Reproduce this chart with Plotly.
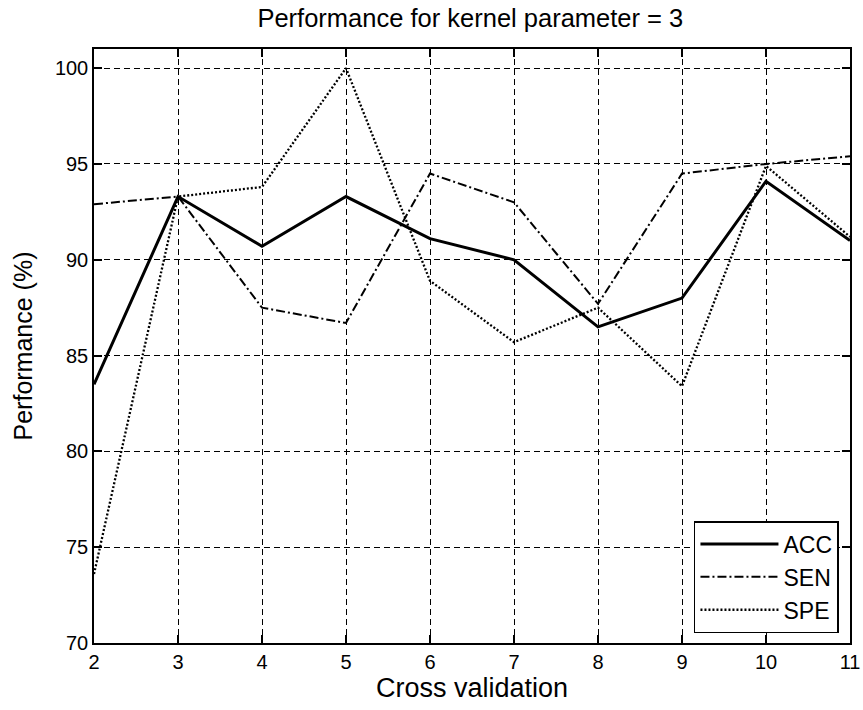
import plotly.graph_objects as go

x_vals = [2, 3, 4, 5, 6, 7, 8, 9, 10, 11]
acc = [83.5, 93.3, 90.7, 93.3, 91.1, 90.0, 86.5, 88.0, 94.1, 91.0]
sen = [92.9, 93.3, 87.5, 86.7, 94.5, 93.0, 87.7, 94.5, 95.0, 95.4]
spe = [73.6, 93.3, 93.8, 100.0, 88.9, 85.7, 87.5, 83.4, 94.9, 91.2]
x_ticks = [2, 3, 4, 5, 6, 7, 8, 9, 10, 11]
y_ticks = [70, 75, 80, 85, 90, 95, 100]

FONT = "Liberation Sans, Arial, sans-serif"

fig = go.Figure()
fig.add_trace(go.Scatter(x=x_vals, y=acc, mode="lines", name="ACC",
                         line=dict(color="black", width=3, dash="solid")))
fig.add_trace(go.Scatter(x=x_vals, y=sen, mode="lines", name="SEN",
                         line=dict(color="black", width=2, dash="9px,3px,2px,3px")))
fig.add_trace(go.Scatter(x=x_vals, y=spe, mode="lines", name="SPE",
                         line=dict(color="black", width=2.3, dash="2px,2px")))

axis_common = dict(showline=True, linecolor="black", linewidth=1.5, mirror="ticks",
                   ticks="inside", ticklen=8, tickcolor="black", tickwidth=1.5,
                   showgrid=True, gridcolor="black", gridwidth=1, griddash="6px,4px",
                   zeroline=False, automargin=False,
                   tickfont=dict(family=FONT, size=20, color="black"))

fig.update_layout(
    width=863, height=710,
    paper_bgcolor="white", plot_bgcolor="white",
    margin=dict(l=94, r=13, t=49, b=67),
    title=dict(text="Performance for kernel parameter = 3", x=0.545, xanchor="center",
               y=0.974, yanchor="middle",
               font=dict(family=FONT, size=25.5, color="black")),
    xaxis=dict(range=[2, 11], tickvals=x_ticks, ticktext=[str(t) for t in x_ticks],
               title=dict(text="Cross validation", font=dict(family=FONT, size=27, color="black"),
                          standoff=3),
               **axis_common),
    yaxis=dict(range=[70, 101], tickvals=y_ticks, ticktext=[str(t) for t in y_ticks],
               title=dict(text="Performance (%)", font=dict(family=FONT, size=25, color="black"),
                          standoff=15),
               **axis_common),
    legend=dict(x=0.9854, y=0.0168, xanchor="right", yanchor="bottom",
                bgcolor="white", bordercolor="black", borderwidth=1.5,
                font=dict(family=FONT, size=23, color="black"),
                itemwidth=78, tracegroupgap=0),
    showlegend=True,
)

fig.write_html("out.html",
               config={"displayModeBar": False},
               post_script="document.body.style.margin='0';document.body.style.overflow='hidden';")
